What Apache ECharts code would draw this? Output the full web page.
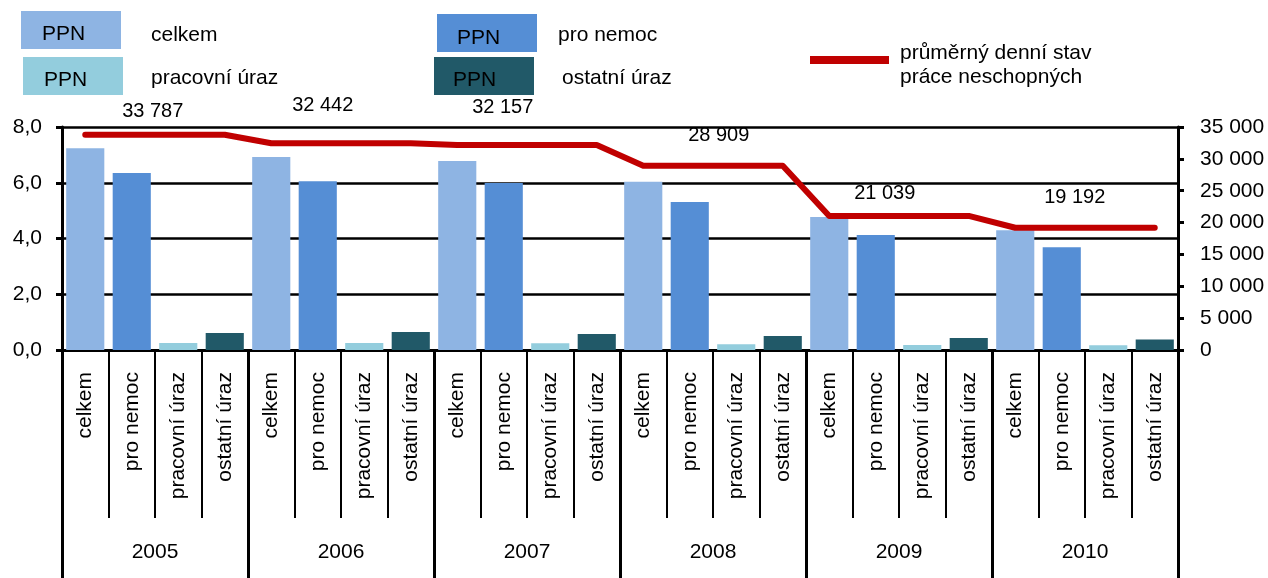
<!DOCTYPE html>
<html>
<head>
<meta charset="utf-8">
<script src="https://cdn.jsdelivr.net/npm/echarts@6/dist/echarts.min.js"></script>
<style>
html,body{margin:0;padding:0;background:#fff;}
#chart{width:1268px;height:578px;}
</style>
</head>
<body>
<div id="chart"></div>
<script>
// ---- data ----
const years = ['2005', '2006', '2007', '2008', '2009', '2010'];
const types = ['celkem', 'pro nemoc', 'pracovní úraz', 'ostatní úraz'];
const celkem = [7.24, 6.92, 6.78, 6.04, 4.77, 4.30];
const proNemoc = [6.35, 6.05, 5.99, 5.31, 4.13, 3.69];
const pracovniUraz = [0.25, 0.25, 0.24, 0.21, 0.18, 0.17];
const ostatniUraz = [0.61, 0.65, 0.57, 0.50, 0.43, 0.38];
const prumernyStav = [33787, 32442, 32157, 28909, 21039, 19192];
const leftTicks = [0, 2, 4, 6, 8];
const rightTicks = [0, 5000, 10000, 15000, 20000, 25000, 30000, 35000];

// ---- styling / layout ----
const colors = ['#8EB4E3', '#558ED5', '#93CDDD', '#215968'];
const lineColor = '#C00000';
const FONT = 'Liberation Sans, Arial, sans-serif';
const FS = 21;
const labelOffsets = [[21, -23], [5, -38], [-1, -38], [29, -30], [9, -22], [13, -30]];

const fmtThousands = v => String(v).replace(/\B(?=(\d{3})+(?!\d))/g, ' ');

const categories = [];
const barData = [];
const lineData = [];
const seriesVals = [celkem, proNemoc, pracovniUraz, ostatniUraz];
years.forEach((y, g) => {
  types.forEach((t, k) => {
    categories.push(t);
    barData.push({ value: seriesVals[k][g], itemStyle: { color: colors[k] } });
    if (k === 1) {
      lineData.push({
        value: prumernyStav[g],
        label: {
          show: true,
          position: 'inside',
          offset: labelOffsets[g],
          formatter: p => fmtThousands(p.value),
          color: '#000',
          fontSize: 20,
          fontFamily: FONT
        }
      });
    } else {
      lineData.push(prumernyStav[g]);
    }
  });
});

const legendGraphics = [];
function legendBox(x, y, w, h, color, ppnX, ppnY, label, lx, ly) {
  legendGraphics.push({ type: 'rect', shape: { x: x, y: y, width: w, height: h }, style: { fill: color } });
  legendGraphics.push({ type: 'text', x: ppnX, y: ppnY, style: { text: 'PPN', fill: '#000', font: FS + 'px ' + FONT, textVerticalAlign: 'middle' } });
  legendGraphics.push({ type: 'text', x: lx, y: ly, style: { text: label, fill: '#000', font: FS + 'px ' + FONT, textVerticalAlign: 'middle' } });
}
legendBox(21, 11, 100, 38, colors[0], 42, 34, types[0], 151, 35);
legendBox(23, 57, 100, 38, colors[2], 44, 80, types[2], 151, 78);
legendBox(437, 14, 100, 38, colors[1], 457, 38, types[1], 558, 35);
legendBox(434, 57, 100, 38, colors[3], 453, 80, types[3], 562, 78);
legendGraphics.push({ type: 'rect', shape: { x: 810, y: 56, width: 79, height: 8 }, style: { fill: lineColor } });
legendGraphics.push({ type: 'text', x: 900, y: 53, style: { text: 'průměrný denní stav', fill: '#000', font: FS + 'px ' + FONT, textVerticalAlign: 'middle' } });
legendGraphics.push({ type: 'text', x: 900, y: 77, style: { text: 'práce neschopných', fill: '#000', font: FS + 'px ' + FONT, textVerticalAlign: 'middle' } });

const chart = echarts.init(document.getElementById('chart'), null, { renderer: 'canvas' });
chart.setOption({
  animation: false,
  backgroundColor: '#fff',
  textStyle: { fontFamily: FONT },
  graphic: legendGraphics,
  grid: { left: 62, right: 90, top: 127, bottom: 228, containLabel: false },
  xAxis: [
    {
      type: 'category',
      data: categories,
      position: 'bottom',
      axisLine: { show: true, lineStyle: { color: '#000', width: 3 } },
      axisTick: { show: true, interval: 0, length: 168, lineStyle: { color: '#000', width: 2 } },
      axisLabel: { interval: 0, rotate: 90, margin: 22, color: '#000', fontSize: FS, fontFamily: FONT },
      splitLine: { show: false }
    },
    {
      type: 'category',
      data: years,
      position: 'bottom',
      axisLine: { show: false },
      axisTick: { show: true, interval: 0, length: 228, lineStyle: { color: '#000', width: 3 } },
      axisLabel: { interval: 0, margin: 192, color: '#000', fontSize: FS, fontFamily: FONT },
      splitLine: { show: false }
    }
  ],
  yAxis: [
    {
      type: 'value',
      min: leftTicks[0],
      max: leftTicks[leftTicks.length - 1],
      interval: 2,
      axisLine: { show: true, lineStyle: { color: '#000', width: 3 } },
      axisTick: { show: true, length: 6, lineStyle: { color: '#000', width: 3 } },
      axisLabel: { margin: 20, color: '#000', fontSize: FS, fontFamily: FONT, formatter: v => v.toFixed(1).replace('.', ',') },
      splitLine: { show: true, lineStyle: { color: '#000', width: 2.5 } }
    },
    {
      type: 'value',
      min: rightTicks[0],
      max: rightTicks[rightTicks.length - 1],
      interval: 5000,
      position: 'right',
      axisLine: { show: true, lineStyle: { color: '#000', width: 3 } },
      axisTick: { show: true, length: 6, lineStyle: { color: '#000', width: 3 } },
      axisLabel: { margin: 22, color: '#000', fontSize: FS, fontFamily: FONT, formatter: v => fmtThousands(v) },
      splitLine: { show: false }
    }
  ],
  series: [
    {
      type: 'bar',
      xAxisIndex: 0,
      yAxisIndex: 0,
      data: barData,
      barCategoryGap: '18%',
      z: 2
    },
    {
      type: 'line',
      xAxisIndex: 0,
      yAxisIndex: 1,
      data: lineData,
      symbol: 'circle',
      symbolSize: 1,
      showSymbol: true,
      itemStyle: { color: lineColor },
      lineStyle: { color: lineColor, width: 6, cap: 'round', join: 'round' },
      z: 5
    }
  ]
});
</script>
</body>
</html>
